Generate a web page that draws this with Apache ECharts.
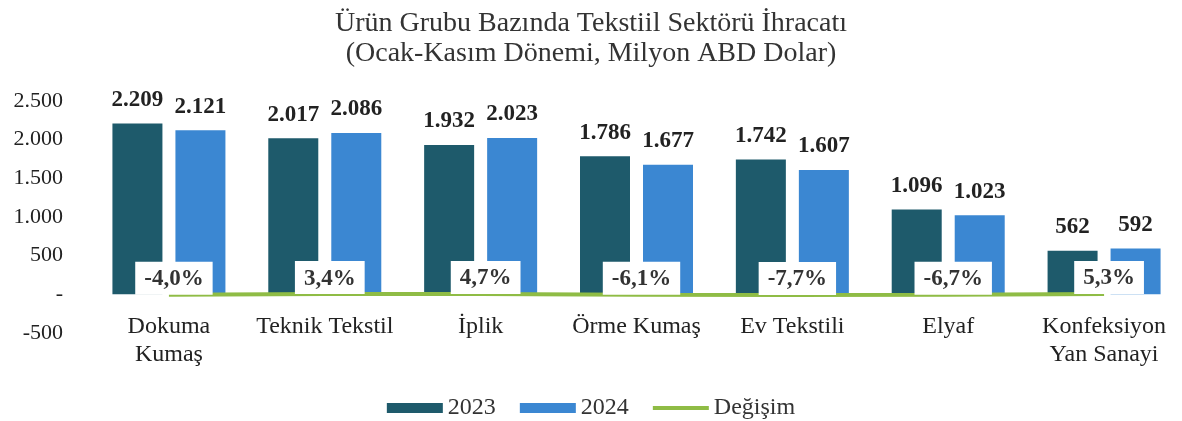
<!DOCTYPE html>
<html>
<head>
<meta charset="utf-8">
<script src="https://cdn.jsdelivr.net/npm/echarts@6/dist/echarts.min.js"></script>
<style>
	html, body { margin: 0; padding: 0; background: #fff; }
	#chart { width: 1182px; height: 421px; }
</style>
</head>
<body>
<div id="chart"></div>
<script>
// veriler
var categories = ['Dokuma\nKumaş', 'Teknik Tekstil', 'İplik', 'Örme Kumaş', 'Ev Tekstili', 'Elyaf', 'Konfeksiyon\nYan Sanayi'];
var values2023 = [2209, 2017, 1932, 1786, 1742, 1096, 562];
var values2024 = [2121, 2086, 2023, 1677, 1607, 1023, 592];
var change = [-4.0, 3.4, 4.7, -6.1, -7.7, -6.7, 5.3];
var yTicks = [-500, 0, 500, 1000, 1500, 2000, 2500];

var FONT = "'Liberation Serif', 'Times New Roman', serif";

function fmtNum(v){
	if (v === 0) return '-';
	var s = String(Math.abs(v)).replace(/\B(?=(\d{3})+(?!\d))/g, '.');
	return (v < 0 ? '-' : '') + s;
}

var chart = echarts.init(document.getElementById('chart'));
chart.setOption({
	animation: false,
	title: {
		text: 'Ürün Grubu Bazında Tekstiil Sektörü İhracatı\n(Ocak-Kasım Dönemi, Milyon ABD Dolar)',
		left: 'center',
		top: 4,
		textStyle: {
			fontFamily: FONT,
			fontSize: 28,
			fontWeight: 'normal',
			color: '#333',
			lineHeight: 30
		}
	},
	legend: {
		top: 391,
		left: 'center',
		itemWidth: 56,
		itemHeight: 10,
		itemGap: 24,
		textStyle: { fontFamily: FONT, fontSize: 24, color: '#333' },
		data: [
			{ name: '2023', icon: 'rect' },
			{ name: '2024', icon: 'rect' },
			{ name: 'Değişim', icon: 'path://M0,0 L56,0 L56,4 L0,4 Z' }
		]
	},
	grid: {
		left: 91,
		right: -4,
		top: 101,
		bottom: 88
	},
	xAxis: {
		type: 'category',
		data: categories,
		axisLine: { show: false },
		axisTick: { show: false },
		axisLabel: {
			margin: -20,
			fontFamily: FONT,
			fontSize: 24,
			color: '#222',
			lineHeight: 28,
			interval: 0
		}
	},
	yAxis: {
		type: 'value',
		min: yTicks[0],
		max: yTicks[yTicks.length - 1],
		interval: 500,
		splitLine: { show: false },
		axisLine: { show: false },
		axisTick: { show: false },
		axisLabel: {
			margin: 28,
			fontFamily: FONT,
			fontSize: 22,
			color: '#222',
			formatter: function(v){ return fmtNum(v); }
		}
	},
	series: [{
		name: '2023',
		type: 'bar',
		data: values2023,
		barWidth: 50,
		barGap: '26%',
		itemStyle: { color: '#1e5a6b' },
		label: {
			show: true,
			position: 'top',
			distance: 12,
			fontFamily: FONT,
			fontSize: 23,
			fontWeight: 'bold',
			color: '#222',
			formatter: function(p){ return fmtNum(p.value); }
		}
	}, {
		name: '2024',
		type: 'bar',
		data: values2024,
		barWidth: 50,
		itemStyle: { color: '#3b87d2' },
		label: {
			show: true,
			position: 'top',
			distance: 12,
			fontFamily: FONT,
			fontSize: 23,
			fontWeight: 'bold',
			color: '#222',
			formatter: function(p){ return fmtNum(p.value); }
		}
	}, {
		name: 'Değişim',
		type: 'line',
		data: change,
		z: 5,
		symbol: 'circle',
		symbolSize: 0,
		itemStyle: { color: '#8fbc45' },
		lineStyle: { color: '#8fbc45', width: 4 },
		label: {
			show: true,
			position: 'top',
			distance: 0,
			offset: [5, 0],
			backgroundColor: '#fff',
			padding: [6, 9, 4, 9],
			fontFamily: FONT,
			fontSize: 23,
			fontWeight: 'bold',
			color: '#333',
			formatter: function(p){ return p.value.toFixed(1).replace('.', ',') + '%'; }
		}
	}]
});
</script>
</body>
</html>
